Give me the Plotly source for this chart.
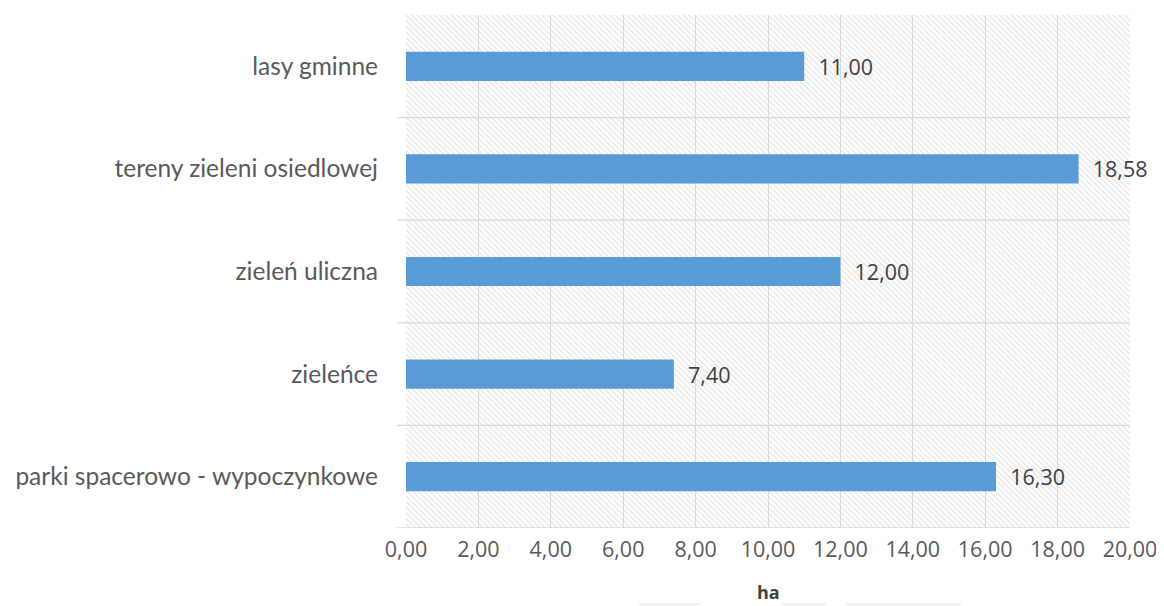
import plotly.graph_objects as go

# ---- data ----
categories = [
    "parki spacerowo - wypoczynkowe",
    "zieleńce",
    "zieleń uliczna",
    "tereny zieleni osiedlowej",
    "lasy gminne",
]
values = [16.30, 7.40, 12.00, 18.58, 11.00]
x_ticks = [0, 2, 4, 6, 8, 10, 12, 14, 16, 18, 20]
axis_title = "ha"

X_MAX = x_ticks[-1]
GRID = "#d9d9d9"
LABEL_FONT = "Lato"
NUM_FONT = "Open Sans"

fig = go.Figure()

# hatched plot background (one full-height transparent bar per category)
fig.add_trace(go.Bar(
    y=categories, x=[X_MAX] * len(categories), orientation="h", width=1,
    marker=dict(color="rgba(0,0,0,0)", line=dict(width=0),
                pattern=dict(shape="\\", fgcolor="#d2d2d2", size=4,
                             solidity=0.4, fillmode="overlay")),
    hoverinfo="skip", showlegend=False,
))

# data bars
fig.add_trace(go.Bar(
    y=categories, x=values, orientation="h", width=0.285,
    marker=dict(color="#5b9bd5", line=dict(width=0)),
    text=values, texttemplate="  %{x:.2f}", textposition="outside",
    textfont=dict(family=NUM_FONT, size=21.5, color="#404040"),
    cliponaxis=False, showlegend=False,
))

shapes = []
# category separators (gridlines + outside tick marks)
for i in range(len(categories)):
    shapes.append(dict(type="line", xref="paper", yref="y",
                       x0=-0.0123, x1=1, y0=i - 0.5, y1=i - 0.5,
                       line=dict(color=GRID, width=1.3), layer="below"))

# faint line fragments along the bottom edge
for a, b in [(0.3215, 0.406), (0.520, 0.580), (0.6076, 0.767)]:
    shapes.append(dict(type="line", xref="paper", yref="paper",
                       x0=a, x1=b, y0=-0.149, y1=-0.149,
                       line=dict(color="#e3e3e3", width=1.2)))

# the page body has an 8px margin, so the figure is sized to fit the window
fig.update_layout(
    width=1156, height=598,
    margin=dict(l=391, r=31, t=7, b=78),
    paper_bgcolor="white", plot_bgcolor="white",
    barmode="overlay", separators=", ",
    font=dict(family=LABEL_FONT, color="#595959"),
    shapes=shapes,
    annotations=[dict(text="<b>" + axis_title + "</b>", xref="paper", yref="paper",
                      x=0.5, y=-0.124, xanchor="center", yanchor="middle",
                      showarrow=False, font=dict(family=NUM_FONT, size=18, color="#404040"))],
    xaxis=dict(range=[0, X_MAX], tickvals=x_ticks, tickformat=".2f",
               showgrid=True, gridcolor=GRID, gridwidth=1.3,
               zeroline=False, showline=False, ticks="",
               tickfont=dict(family=NUM_FONT, size=21.5, color="#595959"),
               ticklabelstandoff=6, fixedrange=True),
    yaxis=dict(type="category", range=[-0.5, len(categories) - 0.5],
               showgrid=False, zeroline=False, showline=False, ticks="",
               tickfont=dict(family=LABEL_FONT, size=24.5, color="#595959"),
               ticklabelstandoff=27, fixedrange=True),
)

fig.write_html("out.html")
